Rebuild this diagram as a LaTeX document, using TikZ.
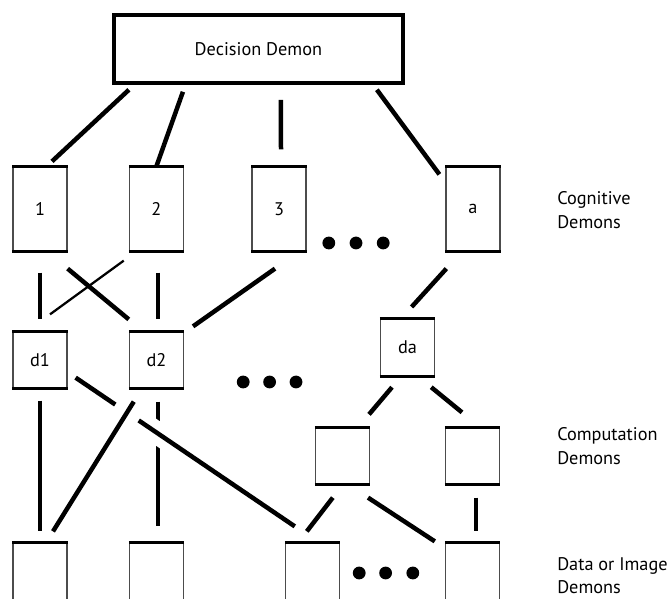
\documentclass[tikz,border=0pt]{standalone}
\usepackage{fontspec}
\setmainfont{PT Sans}
\tikzset{
    demon/.style = {rectangle, draw=black!70, line width=0.9pt, minimum width=1.35cm, minimum height=2.1cm, inner sep=0pt, text centered},
    dbox/.style = {demon, minimum height=1.4cm},
    decision/.style = {rectangle, draw=black, line width=2.8pt, minimum width=7.225cm, minimum height=1.7cm, text centered},
    rim/.style = {line width=2.1pt},
    link/.style = {line width=3.2pt},
    weak/.style = {line width=1.6pt},
    crossing/.style = {link, preaction={draw, white, line width=#1}},
    tier/.style = {align=left, anchor=west, inner sep=0pt, font=\fontsize{13}{17}\selectfont}
}

\begin{document}
\begin{tikzpicture}[font=\fontsize{13}{16}\selectfont]
    \useasboundingbox (0, 0) rectangle (16.8, 14.95);
    \clip (0, 0) rectangle (16.8, 14.95);

    \node (dec) [decision] at (6.46, 13.73) {Decision Demon};

    \node (c1) [demon] at (1.0, 9.725) {1};
    \node (c2) [demon] at (3.91, 9.725) {2};
    \node (c3) [demon] at (6.975, 9.725) {3};
    \node (ca) [demon] at (11.825, 9.725) {a};

    \node (d1) [dbox] at (1.0, 5.95) {d1};
    \node (d2) [dbox] at (3.91, 5.95) {d2};
    \node (da) [dbox] at (10.19, 6.26) {da};

    \node (p1) [dbox] at (8.56, 3.55) {};
    \node (p2) [dbox] at (11.81, 3.55) {};

    \node (b1) [demon] at (1.0, 0.325) {};
    \node (b2) [demon] at (3.91, 0.325) {};
    \node (b3) [demon] at (7.81, 0.325) {};
    \node (b4) [demon] at (11.81, 0.325) {};

    \node (cogn) [tier] at (13.925, 9.7) {Cognitive\\Demons};
    \node (comp) [tier] at (13.925, 3.8) {Computation\\Demons};
    \node (data) [tier] at (13.925, 0.56) {Data or Image\\Demons};

    \foreach \n in {c1, c2, c3, ca, d1, d2, da, p1, p2, b1, b2, b3, b4}
        \draw [rim] (\n.north west) -- (\n.north east) (\n.south west) -- (\n.south east);

    \foreach \x in {8.22, 8.9, 9.58} \fill (\x, 8.875) circle (0.16);
    \foreach \x in {6.08, 6.74, 7.4} \fill (\x, 5.4) circle (0.16);
    \foreach \x in {8.98, 9.64, 10.32} \fill (\x, 0.625) circle (0.16);

    \draw [link] ([xshift=0.425cm, yshift=-0.125cm]dec.south west) -- ([xshift=0.3cm, yshift=0.125cm]c1.north);
    \draw [link] ([xshift=1.775cm, yshift=-0.175cm]dec.south west) -- (c2.north);
    \draw [link] ([xshift=0.5625cm, yshift=-0.375cm]dec.south) -- ([xshift=0.05cm, yshift=0.425cm]c3.north);
    \draw [link] ([xshift=-0.7cm, yshift=-0.125cm]dec.south east) -- ([xshift=-0.15cm, yshift=-0.2cm]ca.north west);

    \draw [link] ([yshift=-0.525cm]c1.south) -- ([yshift=0.3cm]d1.north);
    \draw [link] ([yshift=-0.425cm]c1.south east) -- ([yshift=0.3cm]d2.north west);
    \draw [weak] ([xshift=-0.125cm, yshift=-0.225cm]c2.south west) -- ([xshift=0.25cm, yshift=0.425cm]d1.north);
    \draw [link] ([xshift=0.04cm, yshift=-0.525cm]c2.south) -- ([xshift=0.04cm, yshift=0.3cm]d2.north);
    \draw [link] ([xshift=-0.1cm, yshift=-0.425cm]c3.south) -- ([xshift=0.225cm, yshift=0.125cm]d2.north east);
    \draw [link] ([xshift=0.025cm, yshift=-0.425cm]ca.south west) -- ([xshift=0.1cm, yshift=0.3cm]da.north);

    \draw [link] ([xshift=-0.39cm, yshift=-0.275cm]da.south) -- ([xshift=-0.025cm, yshift=0.325cm]p1.north east);
    \draw [link] ([xshift=-0.1cm, yshift=-0.275cm]da.south east) -- ([xshift=-0.26cm, yshift=0.375cm]p2.north);

    \draw [link] ([xshift=0.04cm, yshift=-0.325cm]d2.south) -- ([xshift=0.04cm, yshift=0.4cm]b2.north);
    \draw [crossing=0.56cm] ([xshift=0.2cm, yshift=0.275cm]d1.south east) -- ([xshift=0.25cm, yshift=0.4cm]b3.north west);
    \draw [crossing=0.7cm] ([xshift=0.125cm, yshift=-0.325cm]d2.south west) -- ([xshift=0.325cm, yshift=0.275cm]b1.north);
    \draw [link] ([yshift=-0.3cm]d1.south) -- ([yshift=0.275cm]b1.north);

    \draw [link] ([xshift=-0.24cm, yshift=-0.325cm]p1.south) -- ([xshift=-0.14cm, yshift=0.275cm]b3.north);
    \draw [link] ([xshift=-0.05cm, yshift=-0.325cm]p1.south east) -- ([xshift=-0.25cm, yshift=0.025cm]b4.north west);
    \draw [link] ([xshift=0.09cm, yshift=-0.325cm]p2.south) -- ([xshift=0.09cm, yshift=0.275cm]b4.north);
\end{tikzpicture}
\end{document}
